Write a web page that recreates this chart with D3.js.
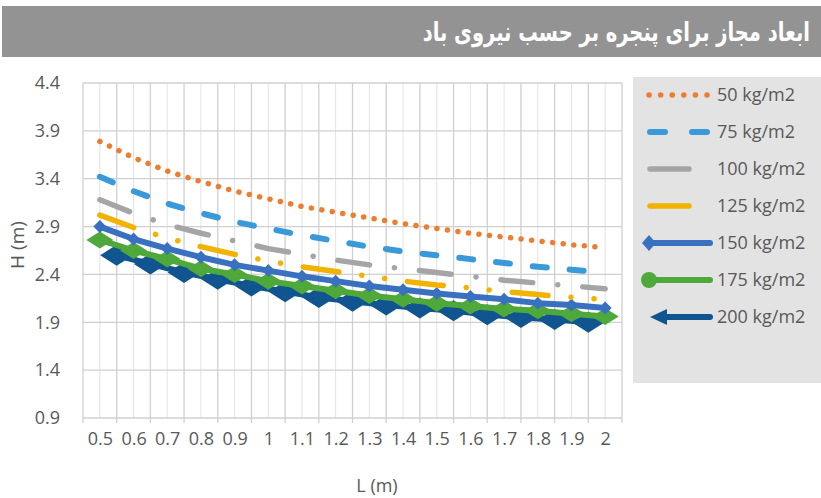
<!DOCTYPE html>
<html>
<head>
<meta charset="utf-8">
<script src="https://cdn.jsdelivr.net/npm/d3@7"></script>
<style>
  body { margin: 0; background: #fff; }
  svg text { font-family: "Open Sans", sans-serif; fill: #595959; }
</style>
</head>
<body>
<svg id="chart" width="821" height="498"></svg>
<script>
// data
const titleText = 'ابعاد مجاز برای پنجره بر حسب نیروی باد';
const lengths = [0.5, 0.6, 0.7, 0.8, 0.9, 1.0, 1.1, 1.2, 1.3, 1.4, 1.5, 1.6, 1.7, 1.8, 1.9, 2.0];
const lengthLabels = ['0.5', '0.6', '0.7', '0.8', '0.9', '1', '1.1', '1.2', '1.3', '1.4', '1.5', '1.6', '1.7', '1.8', '1.9', '2'];
const heightTicks = [0.9, 1.4, 1.9, 2.4, 2.9, 3.4, 3.9, 4.4];
const seriesNames = ['50 kg/m2', '75 kg/m2', '100 kg/m2', '125 kg/m2', '150 kg/m2', '175 kg/m2', '200 kg/m2'];

const h50 = [3.79, 3.62, 3.48, 3.37, 3.27, 3.19, 3.11, 3.05, 2.99, 2.93, 2.88, 2.83, 2.79, 2.75, 2.71, 2.68];
const h75 = [3.42, 3.27, 3.14, 3.04, 2.95, 2.88, 2.81, 2.75, 2.69, 2.64, 2.60, 2.56, 2.52, 2.48, 2.45, 2.42];
const h100 = [3.18, 3.04, 2.92, 2.83, 2.75, 2.67, 2.61, 2.55, 2.50, 2.46, 2.42, 2.38, 2.34, 2.31, 2.28, 2.25];
const h125 = [3.02, 2.89, 2.78, 2.69, 2.61, 2.54, 2.48, 2.43, 2.38, 2.33, 2.29, 2.26, 2.22, 2.19, 2.16, 2.14];
const h150 = [2.90, 2.77, 2.67, 2.58, 2.50, 2.44, 2.38, 2.33, 2.28, 2.24, 2.20, 2.17, 2.14, 2.10, 2.08, 2.05];
const h175 = [2.76, 2.65, 2.56, 2.46, 2.40, 2.33, 2.28, 2.23, 2.18, 2.14, 2.10, 2.07, 2.04, 2.02, 1.99, 1.96];
// the 200 series sits between the category ticks in the picture
const lengths200 = [0.55, 0.65, 0.75, 0.85, 0.95, 1.05, 1.15, 1.25, 1.35, 1.45, 1.55, 1.65, 1.75, 1.85, 1.95];
const h200 = [2.60, 2.51, 2.42, 2.35, 2.28, 2.22, 2.16, 2.12, 2.08, 2.05, 2.02, 1.98, 1.95, 1.93, 1.90];

// styles
const styles = [
  { color: '#ED7D31', width: 5.5, dash: '0.1 10.5' },
  { color: '#3A9AD9', width: 6, dash: '14 23' },
  { color: '#A5A5A5', width: 5.5, dash: '32 25 0.1 25' },
  { color: '#F2B200', width: 5.5, dash: '36 23 0.1 23 0.1 23' },
  { color: '#3A70C0', width: 6, dash: null, marker: 'diamond' },
  { color: '#4EA83A', width: 6, dash: null, marker: 'circle' },
  { color: '#10558F', width: 6, dash: null, marker: 'arrow' }
];

const svg = d3.select('#chart');
const margin = { left: 83, right: 622, top: 83, bottom: 418 };

// title bar
svg.append('rect').attr('x', 2).attr('y', 6).attr('width', 819).attr('height', 51).attr('fill', '#939393');
svg.append('text').attr('transform', 'translate(810,41) scale(0.75,1)').attr('text-anchor', 'end')
  .style('font-family', '"DejaVu Sans", sans-serif').style('font-weight', 'bold').style('font-size', '26px')
  .style('fill', '#fff').text(titleText);

const x = d3.scaleLinear().domain([0.45, 2.05]).range([margin.left, margin.right]);
const y = d3.scaleLinear().domain([0.9, 4.4]).range([margin.bottom, margin.top]);

// gridlines
const bounds = lengths.map(d => d - 0.05).concat([2.05]);
const grid = svg.append('g');
grid.selectAll('.minor').data(lengths).join('line')
  .attr('x1', d => x(d)).attr('x2', d => x(d)).attr('y1', margin.top).attr('y2', margin.bottom)
  .attr('stroke', '#e3e3e3').attr('stroke-width', 1);
grid.selectAll('.major').data(bounds).join('line')
  .attr('x1', d => x(d)).attr('x2', d => x(d)).attr('y1', margin.top).attr('y2', margin.bottom + 5)
  .attr('stroke', '#d0d0d0').attr('stroke-width', 1.3);
grid.selectAll('.hgrid').data(heightTicks).join('line')
  .attr('x1', margin.left).attr('x2', margin.right).attr('y1', d => y(d)).attr('y2', d => y(d))
  .attr('stroke', '#d0d0d0').attr('stroke-width', 1.3);

// axes
const yAxis = svg.append('g').attr('transform', `translate(${margin.left - 20},0)`)
  .call(d3.axisLeft(y).tickValues(heightTicks).tickSize(0).tickFormat(d3.format('.1f')));
yAxis.select('.domain').remove();
yAxis.selectAll('text').style('font-size', '18px').style('fill', '#595959');

const xAxis = svg.append('g').attr('transform', `translate(0,${margin.bottom + 11})`)
  .call(d3.axisBottom(x).tickValues(lengths).tickSize(0).tickFormat((d, i) => lengthLabels[i]));
xAxis.select('.domain').remove();
xAxis.selectAll('text').style('font-size', '18px').style('fill', '#595959');

svg.append('text').attr('x', 377).attr('y', 492).attr('text-anchor', 'middle').style('font-size', '18px').text('L (m)');
svg.append('text').attr('transform', 'translate(24,245) rotate(-90)').attr('text-anchor', 'middle').style('font-size', '19px').text('H (m)');

// series
const line = d3.line().x(d => x(d[0])).y(d => y(d[1]));
const rhombus = (w, h) => `M${-w / 2},0L0,${-h / 2}L${w / 2},0L0,${h / 2}Z`;
const plot = svg.append('g');

function drawLine(xs, ys, s) {
  plot.append('path').datum(d3.zip(xs, ys)).attr('d', line)
    .attr('fill', 'none').attr('stroke', s.color).attr('stroke-width', s.width)
    .attr('stroke-linecap', 'round').attr('stroke-linejoin', 'round')
    .attr('stroke-dasharray', s.dash);
}
function drawMarkers(xs, ys, color, w, h) {
  plot.append('g').selectAll('path').data(d3.zip(xs, ys)).join('path')
    .attr('transform', d => `translate(${x(d[0])},${y(d[1])})`)
    .attr('d', rhombus(w, h)).attr('fill', color);
}

drawLine(lengths200, h200, styles[6]);
drawMarkers(lengths200, h200, styles[6].color, 33, 21);
drawLine(lengths, h175, styles[5]);
drawMarkers(lengths, h175, styles[5].color, 27, 17);
drawLine(lengths, h150, styles[4]);
drawMarkers(lengths, h150, styles[4].color, 13, 13);
drawLine(lengths, h125, styles[3]);
drawLine(lengths, h100, styles[2]);
drawLine(lengths, h75, styles[1]);
drawLine(lengths, h50, styles[0]);

// legend
svg.append('rect').attr('x', 633).attr('y', 77).attr('width', 188).attr('height', 306).attr('fill', '#e3e3e3');
const legend = svg.append('g');
seriesNames.forEach((name, i) => {
  const s = styles[i];
  const cy = 95 + i * 37;
  const row = legend.append('g');
  if (i === 0) {
    row.append('line').attr('x1', 649).attr('x2', 710).attr('y1', cy).attr('y2', cy)
      .attr('stroke', s.color).attr('stroke-width', s.width).attr('stroke-linecap', 'round').attr('stroke-dasharray', '0.1 11.5');
  } else if (i === 1) {
    row.append('line').attr('x1', 650).attr('x2', 707).attr('y1', cy).attr('y2', cy)
      .attr('stroke', s.color).attr('stroke-width', s.width).attr('stroke-linecap', 'round').attr('stroke-dasharray', '15 27');
  } else if (i < 4) {
    row.append('line').attr('x1', 650).attr('x2', 689).attr('y1', cy).attr('y2', cy)
      .attr('stroke', s.color).attr('stroke-width', s.width).attr('stroke-linecap', 'round');
  } else {
    row.append('line').attr('x1', i === 6 ? 662 : 650).attr('x2', 710).attr('y1', cy).attr('y2', cy)
      .attr('stroke', s.color).attr('stroke-width', s.width).attr('stroke-linecap', 'round');
    if (s.marker === 'diamond') row.append('path').attr('transform', `translate(649,${cy})`).attr('d', rhombus(14, 16)).attr('fill', s.color);
    if (s.marker === 'circle') row.append('circle').attr('cx', 649).attr('cy', cy).attr('r', 8).attr('fill', s.color);
    if (s.marker === 'arrow') row.append('path').attr('d', `M650,${cy}L667,${cy - 8}L667,${cy + 8}Z`).attr('fill', s.color);
  }
  row.append('text').attr('x', 717).attr('y', cy).attr('dy', '0.36em').style('font-size', '18px').text(name);
});
</script>
</body>
</html>
